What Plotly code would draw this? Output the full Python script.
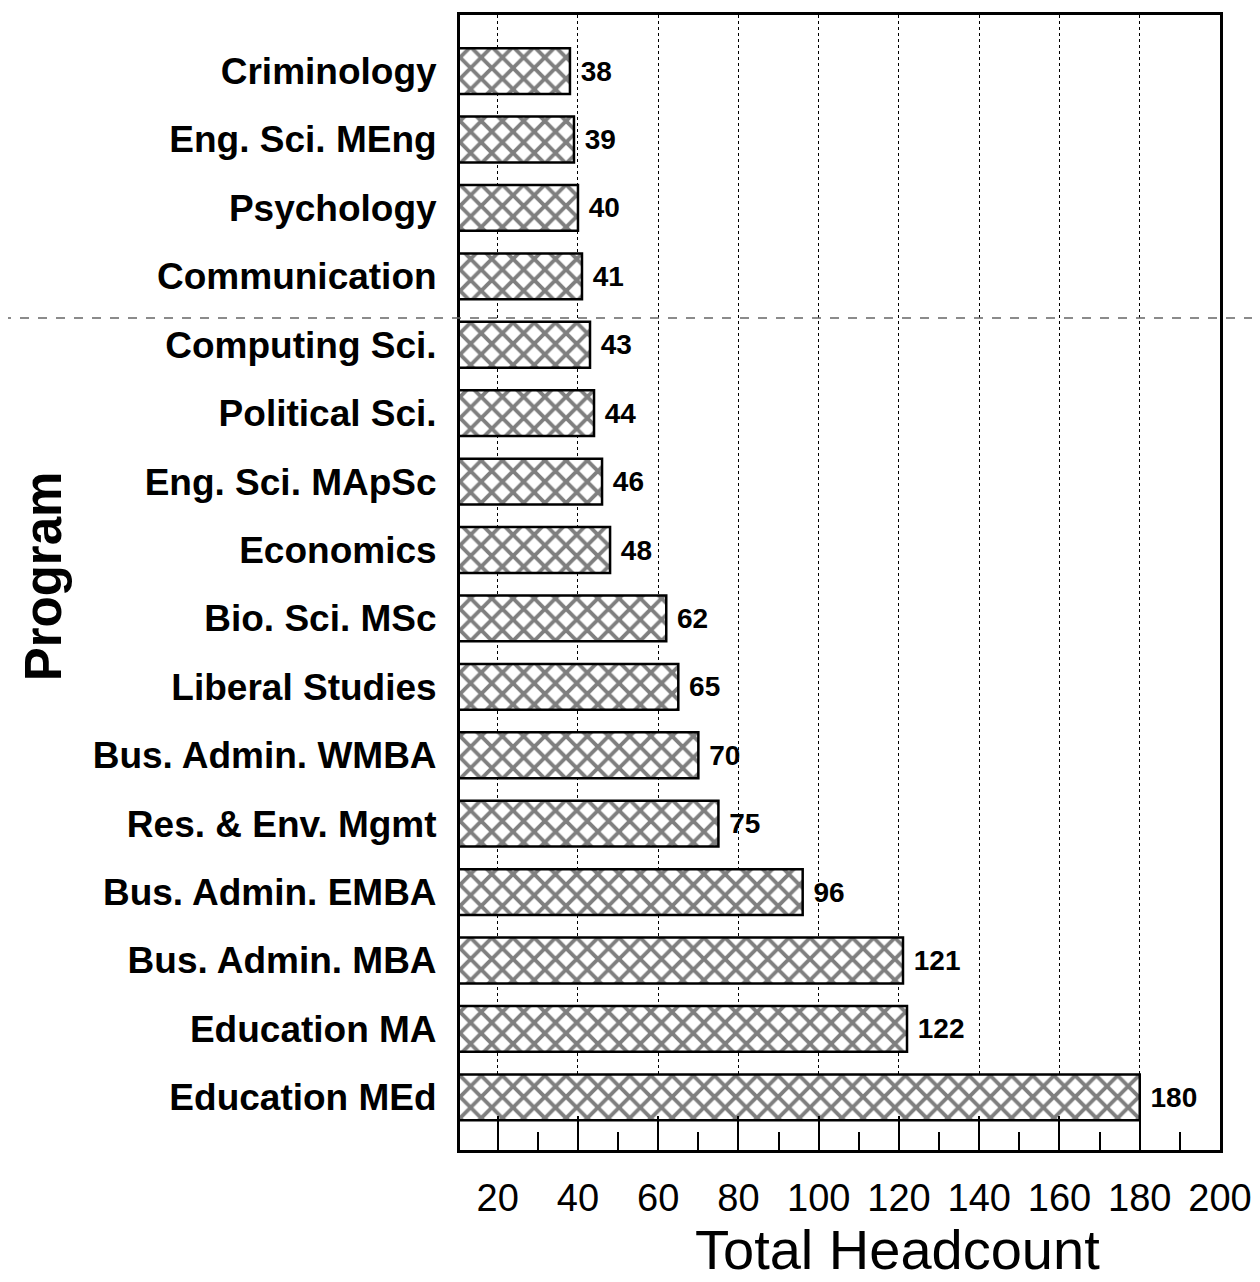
import plotly.graph_objects as go

# programmes, listed top to bottom as in the chart
programs = ["Criminology", "Eng. Sci. MEng", "Psychology", "Communication",
            "Computing Sci.", "Political Sci.", "Eng. Sci. MApSc", "Economics",
            "Bio. Sci. MSc", "Liberal Studies", "Bus. Admin. WMBA",
            "Res. & Env. Mgmt", "Bus. Admin. EMBA", "Bus. Admin. MBA",
            "Education MA", "Education MEd"]
headcount = [38, 39, 40, 41, 43, 44, 46, 48, 62, 65, 70, 75, 96, 121, 122, 180]

x_ticks = [20, 40, 60, 80, 100, 120, 140, 160, 180, 200]
x_minor = [30, 50, 70, 90, 110, 130, 150, 170, 190]

font_main = "Liberation Sans, Arial, sans-serif"

fig = go.Figure(
    data=[
        go.Bar(
            y=programs,
            x=headcount,
            orientation="h",
            text=[" " + str(v) for v in headcount],
            textposition="outside",
            textfont={"family": font_main, "size": 28, "color": "black", "weight": "bold"},
            cliponaxis=False,
            marker={
                "color": "white",
                "line": {"color": "black", "width": 2.5},
                "pattern": {"shape": "x", "fgcolor": "black", "bgcolor": "white",
                            "size": 15, "solidity": 0.45},
            },
        )
    ]
)

# page body adds a small offset, so the figure is kept a little smaller
fig.update_layout(
    width=1252,
    height=1274,
    paper_bgcolor="white",
    plot_bgcolor="white",
    margin={"l": 452, "r": 40, "t": 4, "b": 132},
    bargap=0.33,
    showlegend=False,
    font={"family": font_main, "color": "black"},
)

fig.update_xaxes(
    range=[10.6, 200],
    tickvals=x_ticks,
    ticks="inside",
    ticklen=34,
    tickwidth=1.5,
    tickcolor="black",
    minor={"tickvals": x_minor, "ticks": "inside", "ticklen": 18,
           "tickwidth": 1.5, "tickcolor": "black"},
    showgrid=True,
    gridcolor="black",
    griddash="dot",
    gridwidth=1.3,
    showline=True,
    linecolor="black",
    linewidth=3,
    mirror=True,
    zeroline=False,
    tickfont={"size": 38, "color": "black"},
    ticklabelstandoff=12,
)

fig.update_yaxes(
    categoryorder="array",
    categoryarray=programs,
    range=[15.77, -0.82],
    showgrid=False,
    ticks="",
    showline=True,
    linecolor="black",
    linewidth=3,
    mirror=True,
    tickfont={"size": 37, "color": "black", "weight": "bold"},
    ticklabelstandoff=13,
)

# axis titles
fig.add_annotation(text="Total Headcount", xref="paper", yref="paper",
                   x=0.575, y=-0.088, xanchor="center", yanchor="middle",
                   showarrow=False, font={"size": 56, "color": "black"})
fig.add_annotation(text="Program", xref="paper", yref="paper",
                   x=-0.548, y=0.505, xanchor="center", yanchor="middle",
                   textangle=-90, showarrow=False,
                   font={"size": 51, "color": "black", "weight": "bold"})

# faint dashed fold line across the page
fig.add_shape(type="line", xref="paper", yref="paper",
              x0=-0.65, x1=1.06, y0=0.733, y1=0.733,
              line={"color": "#666666", "width": 1.5, "dash": "dash"})

fig.write_html("out.html")
